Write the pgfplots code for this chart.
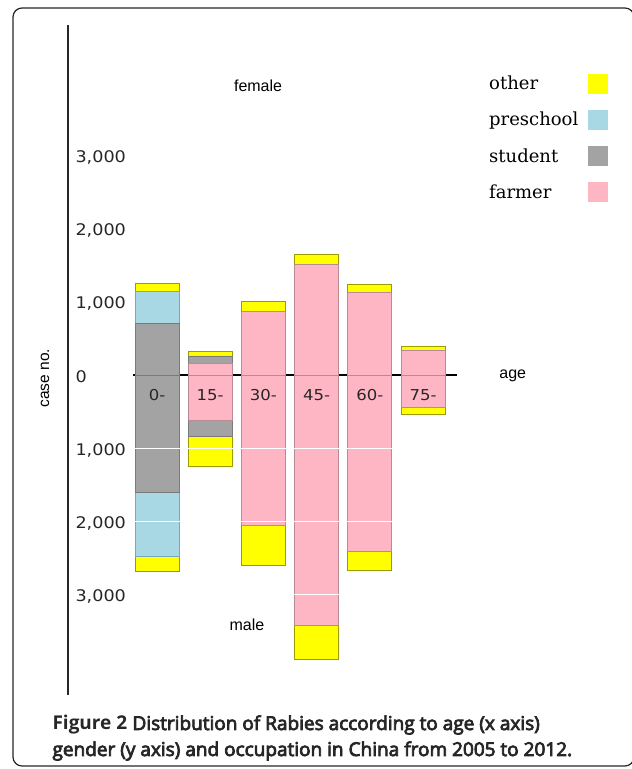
\documentclass[border=0pt]{standalone}
\usepackage{fontspec}
\usepackage{pgfplots}
\usepackage{pgfplotstable}
\pgfplotsset{compat=1.18}
\setmainfont{Liberation Sans}
\newfontfamily\tickfont{DejaVu Sans}[FakeStretch=1.1]
\newfontfamily\legfont{DejaVu Serif}
\newfontfamily\capfont{Open Sans}
\newfontfamily\capfontm{Open Sans}[FakeBold=4]
\definecolor{cyel}{HTML}{FFFF00}
\definecolor{cyelD}{HTML}{9C9C00}
\definecolor{cblue}{HTML}{A8D8E4}
\definecolor{cblueD}{HTML}{7AA8B8}
\definecolor{cgray}{HTML}{A3A3A3}
\definecolor{cgrayD}{HTML}{7A7A7A}
\definecolor{cpink}{HTML}{FFB6C4}
\definecolor{cpinkD}{HTML}{B88A94}

% female (positive)
\pgfplotstableread{
x farmer student preschool other
0 0    705 441 104
1 160  90  10  58
2 873  0   0   127
3 1514 0   0   136
4 1128 0   0   113
5 341  0   0   45
}\female
% male (negative)
\pgfplotstableread{
x farmer student preschool other
0 0     -1600 -880 -200
1 -624  -209  0    -412
2 -2060 0     0    -540
3 -3420 0     0    -470
4 -2410 0     0    -260
5 -441  0     0    -91
}\male

\pgfplotsset{
  common/.style={
    at={(68pt,74pt)}, anchor=south west,
    scale only axis, width=389pt, height=670pt,
    xmin=-1.673, xmax=5.639, ymin=-4370, ymax=4780,
    ybar stacked, bar width=44pt, clip=false,
  },
  sfarmer/.style={fill=cpink, draw=cpinkD, line width=0.9pt},
  sstudent/.style={fill=cgray, draw=cgrayD, line width=0.9pt},
  spre/.style={fill=cblue, draw=cblueD, line width=0.9pt},
  sother/.style={fill=cyel, draw=cyelD, line width=0.9pt},
}

\begin{document}
\begin{tikzpicture}
\useasboundingbox (0,0) rectangle (632pt,769pt);
\draw[line width=1.2pt, rounded corners=9pt, black!85] (13pt,3pt) rectangle (634pt,761pt);

% male (negative) bars first
\begin{axis}[common, hide axis]
\addplot[sfarmer] table[x=x, y=farmer] {\male};
\addplot[sstudent] table[x=x, y=student] {\male};
\addplot[spre] table[x=x, y=preschool] {\male};
\addplot[sother] table[x=x, y=other] {\male};
\end{axis}

% female (positive) bars, axis, labels, legend
\begin{axis}[common,
  axis y line=left, axis x line=middle,
  x axis line style={draw=none},
  y axis line style={-, line width=1.3pt, black!85},
  hide obscured x ticks=false, hide obscured y ticks=false,
  major tick length=0pt,
  ytick={-3000,-2000,-1000,0,1000,2000,3000},
  yticklabels={{3,000},{2,000},{1,000},{0},{1,000},{2,000},{3,000}},
  yticklabel style={anchor=west, xshift=4pt, yshift=-2pt, font=\tickfont\fontsize{16}{18}\selectfont, text=black!85},
  xtick={0,1,2,3,4,5},
  xticklabels={0-,15-,30-,45-,60-,75-},
  xticklabel style={font=\tickfont\fontsize{15}{17}\selectfont, yshift=-11pt, text=black!85},
  ylabel={case no.},
  ylabel style={at={(axis description cs:-0.0591,0.473)}, anchor=center, font=\fontsize{15.5}{17}\selectfont},
  reverse legend,
  legend plot pos=right,
  legend cell align=left,
  legend style={draw=none, fill=none, at={(1.0771,0.9278)}, anchor=north west,
    inner sep=0pt, row sep=16.3pt, column sep=8pt,
    font=\legfont\fontsize{18}{20}\selectfont},
  legend image code/.code={\fill[#1, draw=none] (2pt,-10pt) rectangle (22pt,10pt);},
]
\addplot[sfarmer] table[x=x, y=farmer] {\female};
\addplot[sstudent] table[x=x, y=student] {\female};
\addplot[spre] table[x=x, y=preschool] {\female};
\addplot[sother] table[x=x, y=other] {\female};
\legend{farmer, student, preschool, other}
\pgfplotsinvokeforeach{-3000,-2000,-1000,1000,2000,3000}{
  \draw[white, line width=1.4pt] (axis cs:-0.5,#1) -- (axis cs:5.5,#1);
}
\draw[black, line width=1.4pt] (axis cs:-0.451,0) -- (axis cs:5.639,0);
\node[font=\fontsize{16}{18}\selectfont] at (axis cs:1.90,3947) {female};
\node[font=\fontsize{16}{18}\selectfont] at (axis cs:1.69,-3414) {male};
\node[font=\fontsize{16}{18}\selectfont, anchor=west] at (axis cs:6.37,-10) {age};
\end{axis}

\node[anchor=base west, font=\fontsize{19}{22}\selectfont, text=black!85] at (49pt,39pt)
  {{\capfont\bfseries Figure 2} \capfontm Distribution of Rabies according to age (x axis)};
\node[anchor=base west, font=\fontsize{19}{22}\selectfont, text=black!85] at (49pt,13pt)
  {\capfontm gender (y axis) and occupation in China from 2005 to 2012.};
\end{tikzpicture}
\end{document}
